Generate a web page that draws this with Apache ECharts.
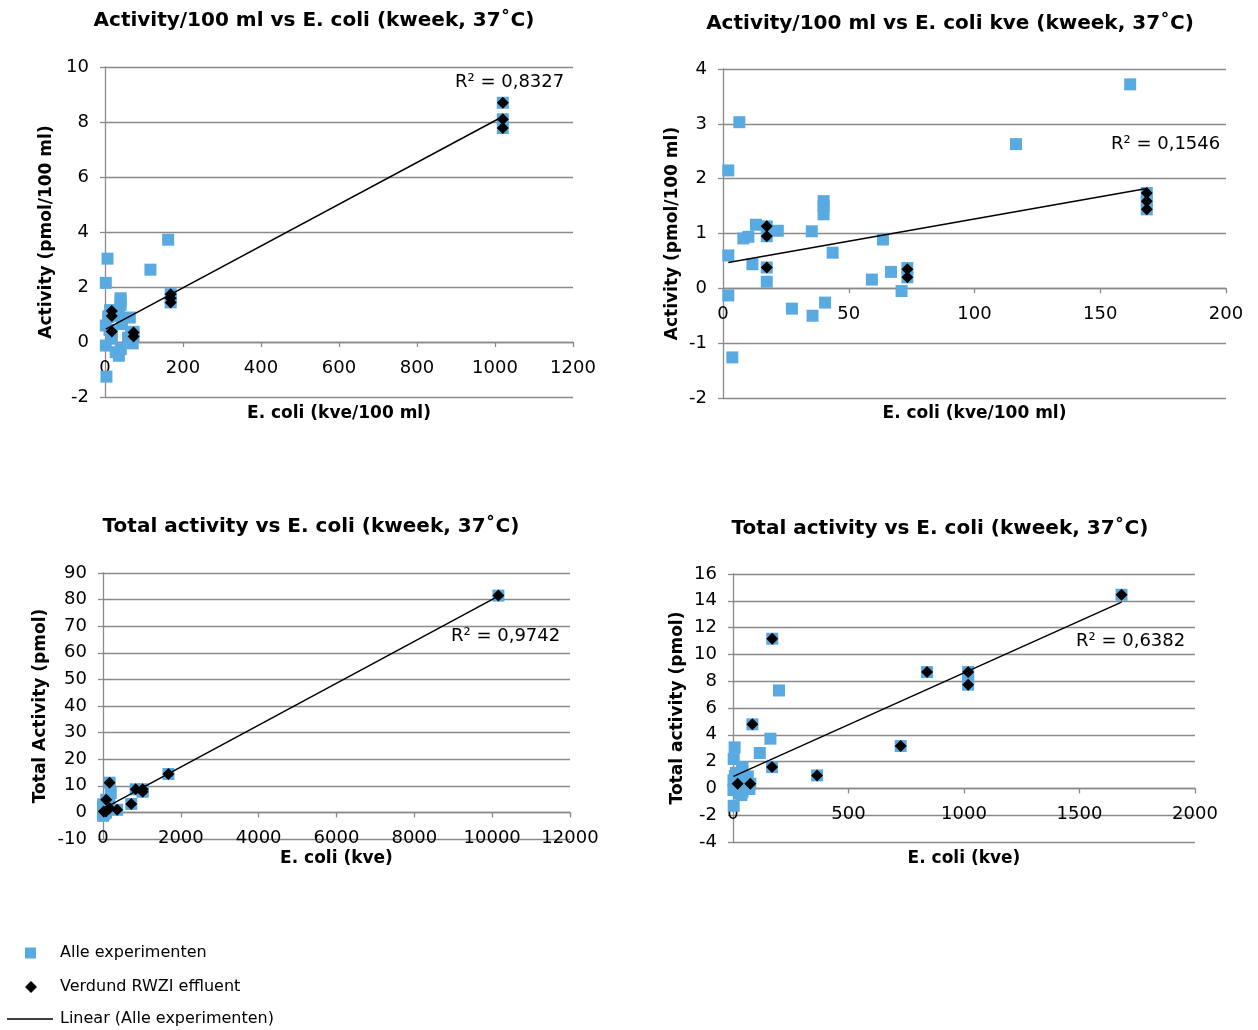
<!DOCTYPE html>
<html>
<head>
<meta charset="utf-8">
<script src="https://cdn.jsdelivr.net/npm/echarts@6/dist/echarts.min.js"></script>
<style>
html,body{margin:0;padding:0;background:#fff;}
#chart{width:1258px;height:1030px;}
</style>
</head>
<body>
<div id="chart"></div>
<script>
// ================= DATA =================
const chartTitles = [
  'Activity/100 ml vs E. coli (kweek, 37˚C)',
  'Activity/100 ml vs E. coli kve (kweek, 37˚C)',
  'Total activity vs E. coli (kweek, 37˚C)',
  'Total activity vs E. coli (kweek, 37˚C)'
];
const xAxisNames = ['E. coli (kve/100 ml)', 'E. coli (kve/100 ml)', 'E. coli (kve)', 'E. coli (kve)'];
const yAxisNames = ['Activity (pmol/100 ml)', 'Activity (pmol/100 ml)', 'Total Activity (pmol)', 'Total activity (pmol)'];
const r2Texts = ['R² = 0,8327', 'R² = 0,1546', 'R² = 0,9742', 'R² = 0,6382'];
const legendNames = ['Alle experimenten', 'Verdund RWZI effluent', 'Linear (Alle experimenten)'];

// axis ranges [min, max, interval]
const xRanges = [[0, 1200, 200], [0, 200, 50], [0, 12000, 2000], [0, 2000, 500]];
const yRanges = [[-2, 10, 2], [-2, 4, 1], [-10, 90, 10], [-4, 16, 2]];

// Activity per 100 ml vs E. coli per 100 ml (all experiments, up to 200 kve/100 ml)
const allePer100 = [
  [2.1, 0.60], [2.1, -0.13], [2.1, 2.15], [6.5, 3.03], [3.7, -1.26], [8.1, 0.91],
  [10.1, 0.94], [11.7, 0.44], [13.1, 1.16], [17.4, 1.13], [17.4, 0.95], [17.4, 0.38],
  [17.4, 0.12], [21.8, 1.05], [27.4, -0.37], [35.3, 1.04], [35.6, -0.50], [40.0, 1.59],
  [40.0, 1.50], [40.0, 1.35], [40.6, -0.26], [43.6, 0.65], [59.2, 0.16], [63.6, 0.89],
  [66.8, 0.30], [71.0, -0.05], [73.3, 0.37], [73.3, 0.20], [116.5, 2.63], [161.9, 3.72],
  [168.5, 1.74], [168.5, 1.59], [168.5, 1.44]
];
const allePer100High = [[1020, 8.70], [1020, 8.10], [1020, 7.78]];
const effluentPer100 = [
  [17.4, 1.13], [17.4, 0.95], [17.4, 0.38], [73.3, 0.35], [73.3, 0.20],
  [168.5, 1.74], [168.5, 1.59], [168.5, 1.44]
];
const effluentPer100High = [[1020, 8.70], [1020, 8.10], [1020, 7.78]];

// Total activity vs total E. coli
const alleTotal = [
  [2, 0.60], [2, -0.13], [3, 2.19], [7, 3.06], [3, -1.30], [8, 0.91], [10, 0.94],
  [12, 0.44], [13, 1.16], [20, 0.35], [17, 0.12], [22, 1.05], [27, -0.37], [35, 1.04],
  [36, -0.50], [40, 1.59], [40, 1.50], [40, 1.35], [41, -0.26], [44, 0.65], [59, 0.16],
  [64, 0.89], [67, 0.30], [71, -0.05], [75, 0.35], [84, 4.78], [116, 2.64], [162, 3.71],
  [169, 1.59], [170, 11.17], [199, 7.31], [364, 0.97], [726, 3.16], [840, 8.68],
  [1018, 8.68], [1018, 8.20], [1018, 7.74], [1682, 14.45]
];
const alleTotalHigh = [[10160, 81.5]];
const effluentTotal = [
  [20, 0.35], [75, 0.35], [84, 4.78], [169, 1.59], [170, 11.17], [364, 0.97],
  [726, 3.16], [840, 8.68], [1018, 8.68], [1018, 7.74], [1682, 14.45]
];
const effluentTotalHigh = [[10160, 81.5]];

// Linear trend lines (end points)
const trend1 = [[2.1, 0.47], [1020, 8.20]];
const trend2 = [[2.1, 0.47], [168.5, 1.82]];
const trend3 = [[2, 1.3], [10160, 81.3]];
const trend4 = [[2, 0.9], [1682, 13.9]];

// ================= LAYOUT / STYLE =================
const FONT = 'DejaVu Sans';
const BLUE = '#5aaae2';
const GRID_COLOR = '#8a8a8a';
const grids = [
  {left: 105, top: 67, width: 468, height: 330},
  {left: 723, top: 69, width: 503, height: 329},
  {left: 103, top: 573, width: 467, height: 266},
  {left: 733, top: 574, width: 462, height: 268}
];
const titlePos = [{x: 314, y: 11}, {x: 950, y: 14}, {x: 311, y: 517}, {x: 940, y: 519}];
const xNameGap = [63, 117, 38, 62];
const yNameGap = [50, 42, 54, 47];
const r2Pos = [[455, 73], [1111, 135], [451, 627], [1076, 632]];

const blueSets = [
  allePer100.concat(allePer100High),
  allePer100,
  alleTotal.concat(alleTotalHigh),
  alleTotal
];
const blackSets = [
  effluentPer100.concat(effluentPer100High),
  effluentPer100,
  effluentTotal.concat(effluentTotalHigh),
  effluentTotal
];
const trends = [trend1, trend2, trend3, trend4];

const xAxes = [], yAxes = [], series = [], titles = [], graphics = [];
for (let i = 0; i < 4; i++) {
  // horizontal axis crosses the vertical axis at 0 (Excel style)
  const zeroOffset = -grids[i].height * (0 - yRanges[i][0]) / (yRanges[i][1] - yRanges[i][0]);
  titles.push({
    text: chartTitles[i], left: titlePos[i].x, top: titlePos[i].y, textAlign: 'center', padding: 0,
    textStyle: {fontFamily: FONT, fontWeight: 'bold', fontSize: 20, color: '#000'}
  });
  xAxes.push({
    gridIndex: i, type: 'value', min: xRanges[i][0], max: xRanges[i][1], interval: xRanges[i][2],
    position: 'bottom', offset: zeroOffset,
    name: xAxisNames[i], nameLocation: 'middle', nameGap: xNameGap[i],
    nameTextStyle: {fontFamily: FONT, fontWeight: 'bold', fontSize: 17, color: '#000'},
    axisLine: {show: true, onZero: false, lineStyle: {color: GRID_COLOR, width: 1.3}},
    axisTick: {show: true, length: 5, inside: false, lineStyle: {color: GRID_COLOR, width: 1.3}},
    axisLabel: {fontFamily: FONT, fontSize: 18, color: '#000', margin: 17,
      showMinLabel: true, showMaxLabel: true, formatter: v => String(v)},
    splitLine: {show: false}
  });
  yAxes.push({
    gridIndex: i, type: 'value', min: yRanges[i][0], max: yRanges[i][1], interval: yRanges[i][2],
    name: yAxisNames[i], nameLocation: 'middle', nameGap: yNameGap[i], nameRotate: 90,
    nameTextStyle: {fontFamily: FONT, fontWeight: 'bold', fontSize: 17, color: '#000'},
    axisLine: {show: true, onZero: false, lineStyle: {color: GRID_COLOR, width: 1.3}},
    axisTick: {show: true, length: 5, inside: false, lineStyle: {color: GRID_COLOR, width: 1.3}},
    axisLabel: {fontFamily: FONT, fontSize: 18, color: '#000', margin: 16,
      showMinLabel: true, showMaxLabel: true, formatter: v => String(v)},
    splitLine: {show: true, lineStyle: {color: GRID_COLOR, width: 1.3}}
  });
  series.push({
    name: legendNames[0], type: 'scatter', xAxisIndex: i, yAxisIndex: i,
    symbol: 'rect', symbolSize: 12, itemStyle: {color: BLUE, opacity: 1}, z: 2,
    data: blueSets[i], silent: true
  });
  series.push({
    name: legendNames[2], type: 'line', xAxisIndex: i, yAxisIndex: i,
    symbol: 'none', showSymbol: false, itemStyle: {color: '#000'},
    lineStyle: {color: '#000', width: 1.5}, z: 3,
    data: trends[i], silent: true
  });
  series.push({
    name: legendNames[1], type: 'scatter', xAxisIndex: i, yAxisIndex: i,
    symbol: 'diamond', symbolSize: 12, itemStyle: {color: '#000', opacity: 1}, z: 4,
    data: blackSets[i], silent: true
  });
  graphics.push({
    type: 'text', left: r2Pos[i][0], top: r2Pos[i][1],
    style: {text: r2Texts[i], fontFamily: FONT, fontSize: 18, fill: '#000'}
  });
}

const legendText = {fontFamily: FONT, fontSize: 16, color: '#000'};
const option = {
  backgroundColor: '#fff',
  animation: false,
  title: titles,
  grid: grids,
  xAxis: xAxes,
  yAxis: yAxes,
  series: series,
  graphic: graphics,
  legend: [
    {data: [legendNames[0]], left: 25, top: 945, padding: 0, icon: 'rect', itemWidth: 11, itemHeight: 11,
     selectedMode: false, itemStyle: {opacity: 1},
     textStyle: Object.assign({padding: [0, 0, 0, 19]}, legendText)},
    {data: [legendNames[1]], left: 25, top: 979, padding: 0, icon: 'diamond', itemWidth: 12, itemHeight: 12,
     selectedMode: false, itemStyle: {opacity: 1},
     textStyle: Object.assign({padding: [0, 0, 0, 18]}, legendText)},
    {data: [{name: legendNames[2], icon: 'path://M0,0 L46,0 L46,1.5 L0,1.5 Z'}], left: 7, top: 1011, padding: 0,
     itemWidth: 46, itemHeight: 12, selectedMode: false,
     itemStyle: {color: '#000'},
     textStyle: Object.assign({padding: [0, 0, 0, 2]}, legendText)}
  ]
};
const chart = echarts.init(document.getElementById('chart'), null, {renderer: 'canvas'});
chart.setOption(option);
</script>
</body>
</html>
